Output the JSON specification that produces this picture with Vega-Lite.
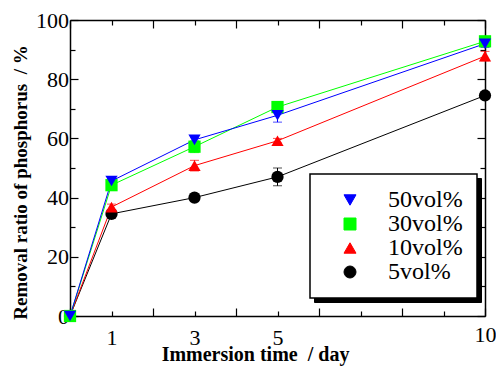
{
  "$schema": "https://vega.github.io/schema/vega-lite/v6.json",
  "width": 415,
  "height": 296,
  "autosize": {"type": "none"},
  "padding": {"left": 70, "top": 20, "right": 11, "bottom": 57},
  "background": "white",
  "config": {
    "view": {"stroke": null},
    "font": "Liberation Serif",
    "axis": {
      "grid": false,
      "domainColor": "black",
      "domainWidth": 1.5,
      "tickColor": "black",
      "tickWidth": 1.2,
      "labelFont": "Liberation Serif",
      "labelFontSize": 22,
      "labelColor": "black",
      "labelFlush": false,
      "labelOverlap": false,
      "titleFont": "Liberation Serif",
      "titleFontWeight": "bold",
      "titleColor": "black"
    },
    "legend": {
      "title": null,
      "labelFont": "Liberation Serif",
      "labelFontSize": 24,
      "labelColor": "black",
      "labelLimit": 300,
      "padding": 14,
      "rowPadding": 0,
      "symbolSize": 144,
      "symbolStrokeWidth": 1,
      "symbolOpacity": 1,
      "symbolFillColor": "black",
      "symbolStrokeColor": "black",
      "symbolOffset": 14,
      "labelOffset": 26
    }
  },
  "data": {
    "values": [
      {"day": 0, "series": "5vol%", "value": 0, "err": 0},
      {"day": 1, "series": "5vol%", "value": 34.5, "err": 0.5},
      {"day": 3, "series": "5vol%", "value": 40, "err": 0.5},
      {"day": 5, "series": "5vol%", "value": 47, "err": 3},
      {"day": 10, "series": "5vol%", "value": 74.5, "err": 0.5},
      {"day": 0, "series": "10vol%", "value": 0, "err": 0},
      {"day": 1, "series": "10vol%", "value": 36.8, "err": 1},
      {"day": 3, "series": "10vol%", "value": 50.8, "err": 1.8},
      {"day": 5, "series": "10vol%", "value": 59.2, "err": 0.8},
      {"day": 10, "series": "10vol%", "value": 87.8, "err": 1.6},
      {"day": 0, "series": "30vol%", "value": 0, "err": 0},
      {"day": 1, "series": "30vol%", "value": 44.2, "err": 1.6},
      {"day": 3, "series": "30vol%", "value": 57.2, "err": 2},
      {"day": 5, "series": "30vol%", "value": 70.6, "err": 1},
      {"day": 10, "series": "30vol%", "value": 92.8, "err": 1.5},
      {"day": 0, "series": "50vol%", "value": 0, "err": 0},
      {"day": 1, "series": "50vol%", "value": 45.6, "err": 1},
      {"day": 3, "series": "50vol%", "value": 59.5, "err": 1},
      {"day": 5, "series": "50vol%", "value": 67.8, "err": 2.3},
      {"day": 10, "series": "50vol%", "value": 92, "err": 1.3}
    ]
  },
  "layer": [
    {
      "mark": {"type": "errorbar", "ticks": {"size": 9}, "thickness": 1},
      "encoding": {
        "x": {"field": "day", "type": "quantitative", "scale": {"domain": [0, 10], "nice": false, "zero": false}, "axis": null},
        "y": {"field": "value", "type": "quantitative", "scale": {"domain": [0, 100], "nice": false}, "axis": null},
        "yError": {"field": "err"},
        "color": {"field": "series", "type": "nominal", "scale": {"domain": ["5vol%", "10vol%", "30vol%", "50vol%"], "range": ["#000000", "#ff0000", "#00ff00", "#0000ff"]}, "legend": null}
      }
    },
    {
      "mark": {"type": "line", "opacity": 0},
      "encoding": {
        "x": {"field": "day", "type": "quantitative", "axis": null},
        "y": {"field": "value", "type": "quantitative", "axis": null},
        "strokeDash": {"field": "series", "type": "nominal",
          "scale": {"domain": ["10vol%", "30vol%", "50vol%", "5vol%"]},
          "legend": {"orient": "none", "legendX": 244, "legendY": 158, "fillColor": "black", "strokeColor": "black", "zindex": 1,
            "title": null, "labelFont": "Liberation Serif", "labelFontSize": 24, "labelColor": "black", "labelLimit": 300,
            "padding": 14, "rowPadding": 0, "symbolSize": 144, "symbolStrokeWidth": 1, "symbolOpacity": 1,
            "symbolFillColor": "black", "symbolStrokeColor": "black", "symbolOffset": 14, "labelOffset": 26}}
      }
    },
    {
      "mark": {"type": "line", "strokeWidth": 1, "clip": false},
      "encoding": {
        "x": {
          "field": "day", "type": "quantitative",
          "axis": {
            "orient": "bottom",
            "values": [0, 1, 2, 3, 4, 5, 6, 7, 8, 9, 10],
            "labelExpr": "indexof([1, 3, 5, 10], datum.value) >= 0 ? datum.label : ''",
            "tickSize": {"condition": {"test": "datum.value % 2 == 0", "value": -8}, "value": -5},
            "labelPadding": 16,
            "title": "Immersion time \u00a0/ day",
            "titleFontSize": 20,
            "titleX": 185,
            "titleY": 44,
            "titleBaseline": "alphabetic"
          }
        },
        "y": {
          "field": "value", "type": "quantitative",
          "axis": {
            "orient": "left",
            "values": [0, 10, 20, 30, 40, 50, 60, 70, 80, 90, 100],
            "labelExpr": "datum.value % 20 == 0 ? datum.label : ''",
            "tickSize": {"condition": {"test": "datum.value % 20 == 0", "value": -8}, "value": -5},
            "labelPadding": 9.5,
            "title": "Removal ratio of phosphorus \u00a0/ %",
            "titleFontSize": 19,
            "titleX": -44,
            "titleY": 162,
            "titleBaseline": "alphabetic"
          }
        },
        "color": {"field": "series", "type": "nominal", "legend": null}
      }
    },
    {
      "mark": {"type": "point", "filled": true, "size": 150, "opacity": 1, "clip": false},
      "encoding": {
        "x": {
          "field": "day", "type": "quantitative",
          "axis": {
            "orient": "top",
            "values": [0, 1, 2, 3, 4, 5, 6, 7, 8, 9, 10],
            "labels": false,
            "title": null,
            "tickSize": {"condition": {"test": "datum.value % 2 == 0", "value": -8}, "value": -5}
          }
        },
        "y": {
          "field": "value", "type": "quantitative",
          "axis": {
            "orient": "right",
            "values": [0, 10, 20, 30, 40, 50, 60, 70, 80, 90, 100],
            "labels": false,
            "title": null,
            "tickSize": {"condition": {"test": "datum.value % 20 == 0", "value": -8}, "value": -5}
          }
        },
        "color": {"field": "series", "type": "nominal", "legend": null},
        "shape": {"field": "series", "type": "nominal",
          "scale": {"domain": ["50vol%", "30vol%", "10vol%", "5vol%"], "range": ["triangle-down", "square", "triangle-up", "circle"]},
          "legend": {"orient": "none", "legendX": 240, "legendY": 154, "fillColor": "white", "strokeColor": "black", "zindex": 2,
            "title": null, "labelFont": "Liberation Serif", "labelFontSize": 24, "labelColor": "black", "labelLimit": 300,
            "padding": 14, "rowPadding": 0, "symbolSize": 144, "symbolStrokeWidth": 1, "symbolOpacity": 1,
            "symbolFillColor": "black", "symbolStrokeColor": "black", "symbolOffset": 14, "labelOffset": 26,
            "encode": {
              "legend": {"strokeWidth": {"value": 1.5}, "update": {"strokeWidth": {"value": 1.5}}},
              "symbols": {
                "size": {"value": 144},
                "opacity": {"value": 1},
                "strokeWidth": {"value": 1},
                "fill": {"signal": "datum.value === '50vol%' ? '#0000ff' : datum.value === '30vol%' ? '#00ff00' : datum.value === '10vol%' ? '#ff0000' : '#000000'"},
                "stroke": {"signal": "datum.value === '50vol%' ? '#0000ff' : datum.value === '30vol%' ? '#00ff00' : datum.value === '10vol%' ? '#ff0000' : '#000000'"},
                "shape": {"signal": "datum.value === '50vol%' ? 'M-4.2,0H4.2M-1.05,-0.9L1.05,-0.9L0,0.95Z' : datum.value === '30vol%' ? 'M-4.2,0H4.2M-0.85,-0.85H0.85V0.85H-0.85Z' : datum.value === '10vol%' ? 'M-4.2,0H4.2M-1.05,0.9L1.05,0.9L0,-0.95Z' : 'M-4.2,0H4.2M-0.9,0A0.9,0.9,0,1,1,0.9,0A0.9,0.9,0,1,1,-0.9,0Z'"},
                "update": {
                  "size": {"value": 144},
                  "opacity": {"value": 1},
                  "strokeWidth": {"value": 1},
                  "fill": {"signal": "datum.value === '50vol%' ? '#0000ff' : datum.value === '30vol%' ? '#00ff00' : datum.value === '10vol%' ? '#ff0000' : '#000000'"},
                  "stroke": {"signal": "datum.value === '50vol%' ? '#0000ff' : datum.value === '30vol%' ? '#00ff00' : datum.value === '10vol%' ? '#ff0000' : '#000000'"},
                  "shape": {"signal": "datum.value === '50vol%' ? 'M-4.2,0H4.2M-1.05,-0.9L1.05,-0.9L0,0.95Z' : datum.value === '30vol%' ? 'M-4.2,0H4.2M-0.85,-0.85H0.85V0.85H-0.85Z' : datum.value === '10vol%' ? 'M-4.2,0H4.2M-1.05,0.9L1.05,0.9L0,-0.95Z' : 'M-4.2,0H4.2M-0.9,0A0.9,0.9,0,1,1,0.9,0A0.9,0.9,0,1,1,-0.9,0Z'"}
                }
              }
            }}}
      }
    }
  ]
}
